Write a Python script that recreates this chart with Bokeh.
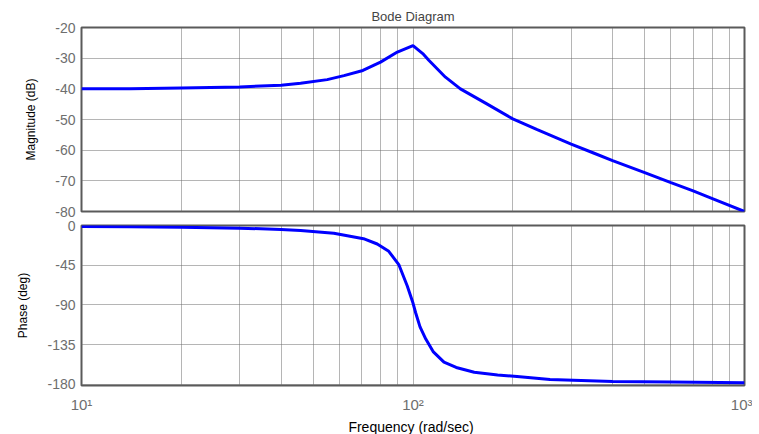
from bokeh.plotting import figure
from bokeh.layouts import column
from bokeh.models import Range1d, FixedTicker
from bokeh.embed import file_html
from bokeh.resources import INLINE

# ---- data ----
mag_w = [10, 14, 20, 30, 40, 45.8, 55.1, 61.9, 70.6, 79.8, 89.7, 100, 107, 111.6, 125.3, 139, 167, 200, 237, 300, 352, 400, 500, 600, 700, 800, 1000]
mag_db = [-40.0, -40.0, -39.7, -39.4, -38.8, -38.2, -37.0, -35.7, -34.0, -31.3, -28.0, -25.9, -28.5, -30.7, -36.2, -40.0, -44.9, -49.8, -53.3, -58.0, -61.0, -63.4, -67.3, -70.6, -73.3, -75.8, -80.0]

ph_w = [10, 14, 20, 30, 40, 45.8, 57.7, 70.9, 78, 84.5, 90.6, 96.1, 100, 101.8, 105, 109.3, 115, 124, 135, 153, 180, 206, 259, 400, 600, 1000]
ph_deg = [-1.0, -1.5, -2.0, -3.0, -4.5, -5.6, -8.7, -15.0, -21.0, -29.3, -44.3, -68.7, -88.0, -98.7, -115.0, -128.8, -143.0, -155.0, -161.0, -166.5, -169.5, -171.4, -174.8, -177.0, -177.5, -178.5]

x_ticks = [10, 100, 1000]
x_tick_labels = ["10\u00b9", "10\u00b2", "10\u00b3"]
x_minor = [20, 30, 40, 50, 60, 70, 80, 90, 200, 300, 400, 500, 600, 700, 800, 900]
mag_ticks = [-80, -70, -60, -50, -40, -30, -20]
mag_tick_labels = ["-80", "-70", "-60", "-50", "-40", "-30", "-20"]
ph_ticks = [-180, -135, -90, -45, 0]
ph_tick_labels = ["-180", "-135", "-90", "-45", "0"]

FONT = "Liberation Sans"
GRID = "#6a6a6a"
FRAME = "#5a5a5a"
TICKLBL = "#6e6e6e"


def style(p):
    p.outline_line_color = FRAME
    p.outline_line_width = 2
    p.background_fill_color = "white"
    p.border_fill_color = "white"
    for g in (p.xgrid[0], p.ygrid[0]):
        g.grid_line_color = GRID
        g.grid_line_dash = "1 1"
        g.grid_line_width = 1
    p.xgrid[0].minor_grid_line_color = GRID
    p.xgrid[0].minor_grid_line_dash = "1 1"
    p.xgrid[0].minor_grid_line_width = 1
    ax = p.yaxis[0]
    ax.axis_line_color = None
    ax.major_tick_in = 0
    ax.major_tick_out = 0
    ax.minor_tick_line_color = None
    ax.major_label_text_font = FONT
    ax.major_label_text_font_size = "14px"
    ax.major_label_text_color = TICKLBL
    ax.major_label_standoff = 6
    ax.axis_label_text_font = FONT
    ax.axis_label_text_font_size = "12px"
    ax.axis_label_text_font_style = "normal"
    ax.axis_label_text_color = "black"
    ax.axis_label_standoff = 14


xr = Range1d(10, 1000)
ticker = FixedTicker(ticks=x_ticks, minor_ticks=x_minor)

p1 = figure(frame_width=663, frame_height=184, x_axis_type="log", x_range=xr,
            y_range=Range1d(-80, -20), output_backend="svg", toolbar_location=None,
            min_border_left=81, min_border_right=8, min_border_top=27, min_border_bottom=7,
            title="Bode Diagram")
p1.title.align = "center"
p1.title.text_font = FONT
p1.title.text_font_size = "13px"
p1.title.text_font_style = "normal"
p1.title.offset = 0
p1.title.standoff = 8
p1.xaxis.visible = False
p1.xgrid[0].ticker = ticker
p1.yaxis.ticker = FixedTicker(ticks=mag_ticks)
p1.yaxis.major_label_overrides = {t: s for t, s in zip(mag_ticks, mag_tick_labels)}
p1.yaxis.axis_label = "Magnitude (dB)"
style(p1)
p1.line(mag_w, mag_db, line_color="#0000ff", line_width=3)

p2 = figure(frame_width=663, frame_height=160, x_axis_type="log", x_range=xr,
            y_range=Range1d(-181.5, 0), output_backend="svg", toolbar_location=None,
            min_border_left=81, min_border_right=8, min_border_top=7, min_border_bottom=45)
p2.xaxis.ticker = ticker
p2.xaxis.major_label_overrides = {t: s for t, s in zip(x_ticks, x_tick_labels)}
p2.xaxis.axis_line_color = None
p2.xaxis.major_tick_in = 0
p2.xaxis.major_tick_out = 0
p2.xaxis.minor_tick_line_color = None
p2.xaxis.major_label_text_font = FONT
p2.xaxis.major_label_text_font_size = "15px"
p2.xaxis.major_label_text_color = TICKLBL
p2.xaxis.major_label_standoff = 6
p2.xaxis.axis_label = "Frequency  (rad/sec)"
p2.xaxis.axis_label_text_font = FONT
p2.xaxis.axis_label_text_font_size = "14px"
p2.xaxis.axis_label_text_font_style = "normal"
p2.xaxis.axis_label_text_color = "black"
p2.xaxis.axis_label_standoff = 3
p2.xgrid[0].ticker = ticker
p2.yaxis.ticker = FixedTicker(ticks=ph_ticks)
p2.yaxis.major_label_overrides = {t: s for t, s in zip(ph_ticks, ph_tick_labels)}
p2.yaxis.axis_label = "Phase (deg)"
style(p2)
p2.line(ph_w, ph_deg, line_color="#0000ff", line_width=3)

layout = column(p1, p2, spacing=0)
open("out.html", "w").write(file_html(layout, INLINE))
